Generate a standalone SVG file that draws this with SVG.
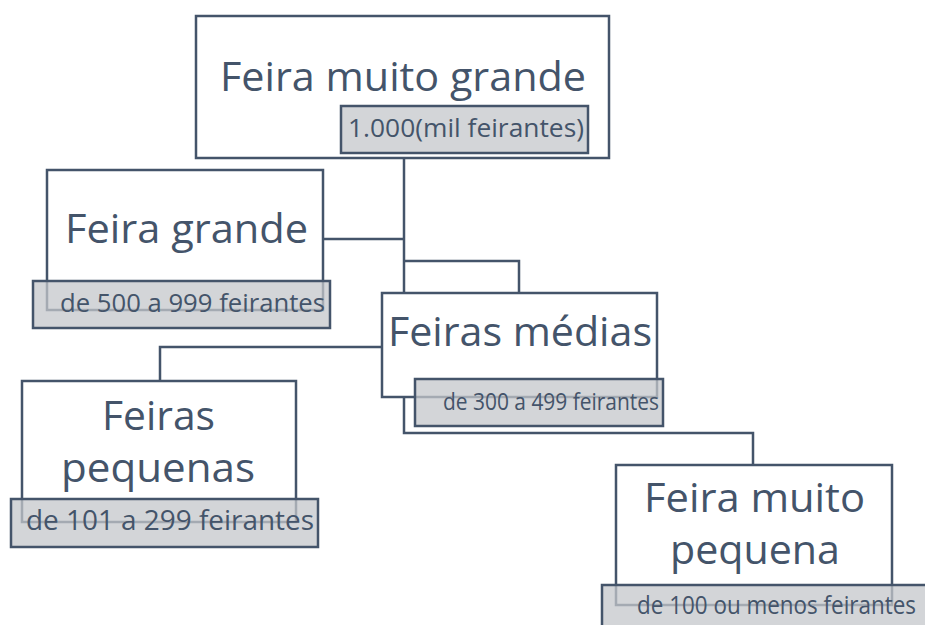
<svg xmlns="http://www.w3.org/2000/svg" width="925" height="625" viewBox="0 0 925 625">
<style>
.box{fill:#ffffff;stroke:#44546a;stroke-width:2.5}
.lab{fill:#c4c7cb;fill-opacity:0.75;stroke:#44546a;stroke-width:2.5}
.t{font-family:"Open Sans","Liberation Sans",sans-serif;fill:#44546a}
.big{font-size:40px}
.sm{font-size:26px}
.con{fill:none;stroke:#44546a;stroke-width:2.5}
</style>
<rect width="925" height="625" fill="#ffffff"/>
<g id="connectors">
<path class="con" d="M404,158 V293"/>
<path class="con" d="M404,261 H519 V293"/>
<path class="con" d="M323,239 H404"/>
<path class="con" d="M382,347 H160 V381"/>
<path class="con" d="M404,397 V433 H753 V465"/>
</g>
<g id="feira-muito-grande">
<rect class="box" x="196" y="16" width="413" height="142"/>
<text class="t big" x="220" y="91" textLength="366" lengthAdjust="spacingAndGlyphs">Feira muito grande</text>
<rect class="lab" x="341" y="106" width="247" height="47"/>
<text class="t sm" x="348" y="137" textLength="236" lengthAdjust="spacingAndGlyphs">1.000(mil feirantes)</text>
</g>
<g id="feira-grande">
<rect class="box" x="47" y="170" width="276" height="140"/>
<text class="t big" x="65" y="243" textLength="243" lengthAdjust="spacingAndGlyphs">Feira grande</text>
<rect class="lab" x="33" y="281" width="297" height="47"/>
<text class="t sm" x="60" y="312" textLength="265" lengthAdjust="spacingAndGlyphs">de 500 a 999 feirantes</text>
</g>
<g id="feiras-medias">
<rect class="box" x="382" y="293" width="275" height="104"/>
<text class="t big" x="388" y="346" textLength="264" lengthAdjust="spacingAndGlyphs">Feiras médias</text>
<rect class="lab" x="415" y="379" width="248" height="47"/>
<text class="t" style="font-size:23px" x="443" y="410" textLength="216" lengthAdjust="spacingAndGlyphs">de 300 a 499 feirantes</text>
</g>
<g id="feiras-pequenas">
<rect class="box" x="22" y="381" width="274" height="141"/>
<text class="t big" x="102" y="430" textLength="113" lengthAdjust="spacingAndGlyphs">Feiras</text>
<text class="t big" x="61" y="482" textLength="194" lengthAdjust="spacingAndGlyphs">pequenas</text>
<rect class="lab" x="11" y="499" width="307" height="48"/>
<text class="t" style="font-size:27px" x="26" y="530" textLength="288" lengthAdjust="spacingAndGlyphs">de 101 a 299 feirantes</text>
</g>
<g id="feira-muito-pequena">
<rect class="box" x="616" y="465" width="276" height="140"/>
<text class="t big" x="644" y="512" textLength="221" lengthAdjust="spacingAndGlyphs">Feira muito</text>
<text class="t big" x="670" y="564" textLength="170" lengthAdjust="spacingAndGlyphs">pequena</text>
<rect class="lab" x="602" y="585" width="340" height="50"/>
<text class="t" style="font-size:25px" x="637" y="614" textLength="279" lengthAdjust="spacingAndGlyphs">de 100 ou menos feirantes</text>
</g>
</svg>
